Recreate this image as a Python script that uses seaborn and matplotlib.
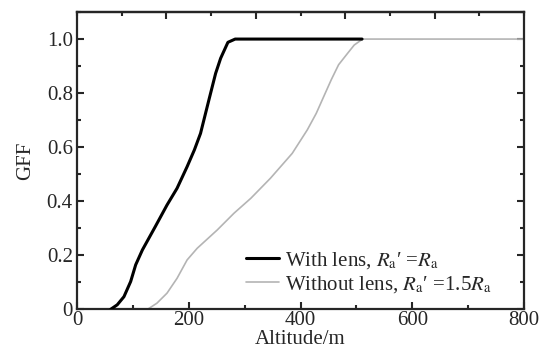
import numpy as np
import pandas as pd
import matplotlib
matplotlib.use("Agg")
import matplotlib.pyplot as plt
import seaborn as sns
from matplotlib.ticker import MultipleLocator

# Curvas
alt_lente = [60, 72, 84, 96, 105, 117, 140, 161, 179, 197, 210, 221, 236, 248, 257, 270, 283, 510]
gff_lente = [0, 0.017, 0.047, 0.103, 0.165, 0.22, 0.306, 0.386, 0.448, 0.528, 0.59,
             0.651, 0.775, 0.873, 0.929, 0.988, 1.0, 1.0]

alt_sem = [126, 143, 161, 179, 197, 215, 251, 281, 311, 346, 385, 412, 428, 442, 455, 468,
           484, 496, 511, 800]
gff_sem = [0, 0.023, 0.06, 0.115, 0.183, 0.226, 0.294, 0.356, 0.411, 0.485, 0.577,
           0.664, 0.725, 0.79, 0.85, 0.905, 0.947, 0.978, 1.0, 1.0]

rotulos = [r"With lens, $R_{\rm a}$′ =$R_{\rm a}$",
           r"Without lens, $R_{\rm a}$′ =1.5$R_{\rm a}$"]

df = pd.concat([
    pd.DataFrame({"alt": alt_lente, "gff": gff_lente, "caso": rotulos[0]}),
    pd.DataFrame({"alt": alt_sem, "gff": gff_sem, "caso": rotulos[1]}),
])

sns.set_style("ticks")
plt.rcParams["font.family"] = ["Liberation Serif", "DejaVu Serif"]
plt.rcParams["mathtext.fontset"] = "stix"

fig = plt.figure(figsize=(5.5, 3.54), dpi=100)
ax = fig.add_axes([0.14, 0.126, 0.813, 0.84])

sns.lineplot(data=df, x="alt", y="gff", hue="caso", hue_order=rotulos,
             palette=["black", "#b4b4b4"], ax=ax, sort=False, estimator=None)
linhas = ax.get_lines()
linhas[0].set_linewidth(2.2)
linhas[0].set_zorder(3)
linhas[1].set_linewidth(1.2)

ax.set_xlim(0, 800)
ax.set_ylim(0, 1.1)
ax.set_xticks([0, 200, 400, 600, 800])
ax.xaxis.set_minor_locator(MultipleLocator(100))
ax.set_yticks([0, 0.2, 0.4, 0.6, 0.8, 1.0])
ax.set_yticklabels(["0", "0.2", "0.4", "0.6", "0.8", "1.0"])
ax.yaxis.set_minor_locator(MultipleLocator(0.1))
ax.tick_params(which="both", direction="in", right=True, width=1.5, labelsize=15)
ax.tick_params(which="major", length=5)
ax.tick_params(which="minor", length=3)
ax.tick_params(axis="x", pad=1)
ax.tick_params(axis="y", pad=3)

# eixo superior com marcas a cada 80
topo = ax.secondary_xaxis("top")
topo.set_xticks([160, 320, 480, 640])
topo.xaxis.set_minor_locator(MultipleLocator(80))
topo.tick_params(which="both", direction="in", labeltop=False, width=1.5)
topo.tick_params(which="major", length=5)
topo.tick_params(which="minor", length=3)

for s in ax.spines.values():
    s.set_linewidth(1.6)
    s.set_visible(True)
topo.spines["top"].set_linewidth(1.6)

ax.set_xlabel("Altitude/m", fontsize=15, labelpad=0)
ax.set_ylabel("GFF", fontsize=15, labelpad=8)

leg = ax.legend(loc="lower right", frameon=False, fontsize=15,
                handlelength=1.6, handletextpad=0.3, labelspacing=0.15,
                borderaxespad=0.3, bbox_to_anchor=(0.96, 0.0))
leg.get_lines()[0].set_linewidth(2.2)
leg.get_lines()[1].set_linewidth(1.2)

fig.savefig("out.png", dpi=100)
